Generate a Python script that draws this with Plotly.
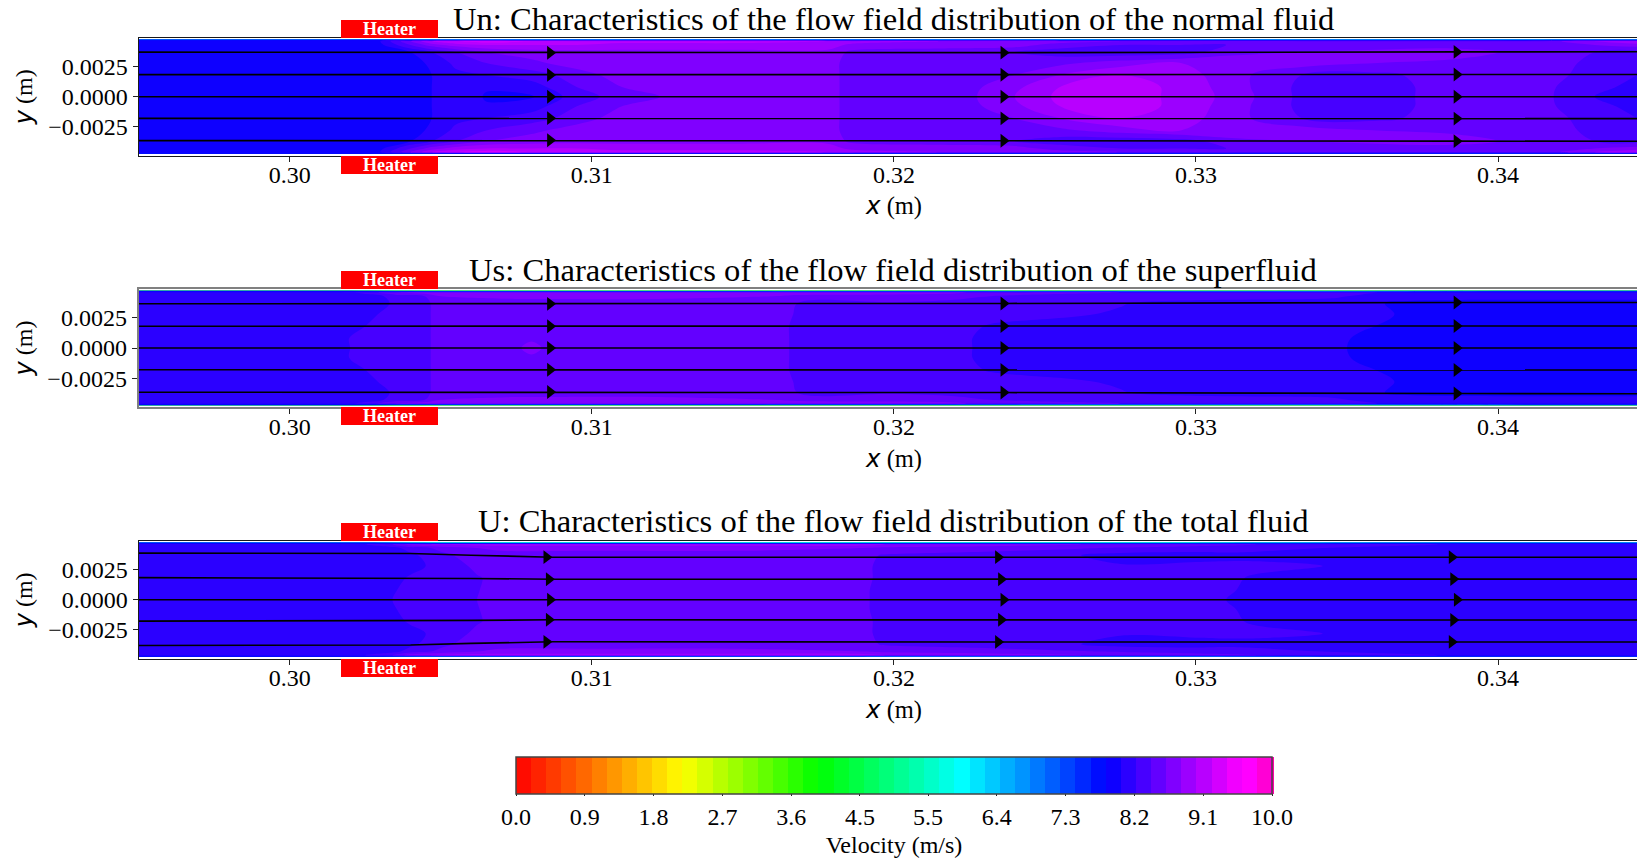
import plotly.graph_objects as go

# ---------- shared axes data ----------
y_rows = [-0.00475, -0.0046, -0.0043, -0.0037, -0.0028, -0.0018, -0.0008, 0.0,
          0.0008, 0.0018, 0.0028, 0.0037, 0.0043, 0.0046, 0.00475]
x_ticks = [0.30, 0.31, 0.32, 0.33, 0.34]
y_ticks = [-0.0025, 0.0, 0.0025]
cbar_tickvals = [0, 0.91, 1.82, 2.73, 3.64, 4.55, 5.45, 6.36, 7.27, 8.18, 9.09, 10]
cbar_ticktext = ["0.0", "0.9", "1.8", "2.7", "3.6", "4.5", "5.5", "6.4", "7.3", "8.2", "9.1", "10.0"]
titles = ["Un: Characteristics of the flow field distribution of the normal fluid",
          "Us: Characteristics of the flow field distribution of the superfluid",
          "U: Characteristics of the flow field distribution of the total fluid"]

colorscale = [[0.00, "rgb(255,0,0)"], [0.22, "rgb(255,255,0)"], [0.40, "rgb(0,255,0)"],
              [0.59, "rgb(0,255,255)"], [0.78, "rgb(0,0,255)"], [0.96, "rgb(255,0,255)"],
              [0.98, "rgb(255,0,255)"], [1.00, "rgb(255,0,170)"]]

# ---------- Un ----------
un_x = [.2950,.3030,.3040,.3047,.3055,.3065,.3080,.3095,.3110,.3125,.3150,.3178,.3186,.3215,.3240,.3255,.3275,.3295,.3310,.3335,.3360,.3385,.3415,.3432,.3446]
un_00 = [7.9,7.9,7.9,8.0,8.15,7.98,7.98,8.3,8.5,8.62,8.75,8.75,8.45,8.4,8.8,9.05,9.1,8.95,8.75,8.35,8.3,8.5,8.45,8.2,8.15]
un_08 = [7.9,7.9,7.9,8.0,8.15,8.02,8.1,8.4,8.6,8.7,8.75,8.75,8.45,8.4,8.75,9.0,9.1,8.95,8.72,8.35,8.3,8.5,8.45,8.25,8.15]
un_18 = [7.9,7.9,7.9,8.0,8.15,8.2,8.3,8.5,8.7,8.75,8.75,8.75,8.45,8.4,8.6,8.8,9.0,8.9,8.7,8.4,8.35,8.5,8.5,8.3,8.2]
un_28 = [7.9,7.9,7.9,8.05,8.25,8.4,8.55,8.7,8.72,8.75,8.75,8.75,8.45,8.4,8.45,8.55,8.7,8.8,8.8,8.7,8.6,8.55,8.5,8.35,8.25]
un_37 = [7.9,7.9,8.0,8.2,8.4,8.6,8.7,8.72,8.75,8.75,8.75,8.75,8.55,8.5,8.4,8.3,8.25,8.3,8.5,8.6,8.65,8.7,8.5,8.4,8.3]
un_43 = [7.9,7.95,8.4,8.7,8.9,9.0,9.0,9.0,8.9,8.9,8.9,8.9,8.75,8.7,8.7,8.5,8.4,8.4,8.4,8.5,8.5,8.5,8.5,8.6,8.7]
un_46 = [7.9,8.0,8.6,9.0,9.2,9.3,9.2,9.1,9.1,9.1,9.1,9.0,8.9,8.8,8.8,8.7,8.6,8.6,8.6,8.5,8.5,8.5,8.5,8.8,9.0]
un_48 = [7.7,7.7,7.4,7.3,7.3,7.3,7.3,7.3,7.3,7.3,7.3,7.3,7.3,7.3,7.3,7.3,7.3,7.3,7.3,7.3,7.3,7.3,7.3,7.3,7.3]
un_rows = [un_48, un_46, un_43, un_37, un_28, un_18, un_08, un_00, un_08, un_18, un_28, un_37, un_43, un_46, un_48]

# ---------- Us ----------
us_x = [.2950,.3015,.3025,.3035,.3046,.3050,.3075,.3080,.3085,.3120,.3160,.3168,.3200,.3220,.3232,.3275,.3300,.3345,.3355,.3370,.3410,.3446]
us_00 = [8.1,8.12,8.28,8.3,8.38,8.5,8.55,8.7,8.55,8.5,8.5,8.35,8.3,8.25,8.15,8.1,8.1,8.05,7.95,7.9,7.9,7.9]
us_08 = [8.1,8.13,8.28,8.3,8.38,8.5,8.5,8.55,8.5,8.5,8.5,8.35,8.3,8.25,8.15,8.1,8.1,8.05,7.97,7.9,7.9,7.9]
us_18 = [8.1,8.1,8.2,8.3,8.38,8.5,8.5,8.5,8.5,8.5,8.5,8.35,8.3,8.28,8.18,8.1,8.1,8.05,8.02,7.95,7.9,7.9]
us_28 = [8.1,8.1,8.15,8.27,8.38,8.5,8.5,8.5,8.5,8.5,8.5,8.38,8.35,8.3,8.28,8.18,8.12,8.08,8.05,7.98,7.9,7.9]
us_37 = [8.1,8.1,8.12,8.22,8.38,8.52,8.52,8.52,8.52,8.52,8.5,8.4,8.38,8.35,8.32,8.21,8.12,8.08,8.05,7.95,7.9,7.9]
us_43 = [8.1,8.1,8.12,8.25,8.42,8.6,8.65,8.65,8.65,8.65,8.6,8.55,8.5,8.45,8.4,8.3,8.3,8.25,8.15,8.1,8.1,8.1]
us_46 = [8.1,8.1,8.25,8.6,8.75,8.8,8.8,8.8,8.8,8.8,8.75,8.7,8.7,8.65,8.5,8.4,8.35,8.3,8.25,8.1,8.1,8.1]
us_48 = [7.7,7.7,7.5,6.8,6.5,6.4,6.4,6.4,6.4,6.4,6.4,6.4,6.4,6.4,6.4,6.4,6.4,6.4,6.5,6.8,7.2,7.2]
us_rows = [us_48, us_46, us_43, us_37, us_28, us_18, us_08, us_00, us_08, us_18, us_28, us_37, us_43, us_46, us_48]

# ---------- U ----------
u_x = [.2950,.3025,.3034,.3040,.3050,.3062,.3070,.3100,.3150,.3190,.3197,.3230,.3262,.3275,.3300,.3310,.3320,.3342,.3380,.3420,.3446]
u_00 = [8.1,8.12,8.2,8.28,8.3,8.4,8.5,8.52,8.52,8.42,8.35,8.3,8.28,8.27,8.25,8.2,8.15,8.1,8.1,8.1,8.1]
u_08 = [8.1,8.11,8.18,8.26,8.3,8.39,8.48,8.52,8.52,8.42,8.35,8.3,8.27,8.26,8.25,8.22,8.16,8.1,8.1,8.1,8.1]
u_18 = [8.1,8.1,8.15,8.22,8.3,8.38,8.47,8.52,8.52,8.43,8.36,8.3,8.25,8.25,8.25,8.23,8.18,8.1,8.1,8.1,8.1]
u_28 = [8.1,8.1,8.1,8.15,8.25,8.45,8.5,8.52,8.52,8.43,8.36,8.3,8.22,8.22,8.25,8.25,8.24,8.2,8.1,8.1,8.1]
u_37 = [8.1,8.1,8.1,8.15,8.35,8.5,8.52,8.52,8.52,8.45,8.38,8.3,8.2,8.12,8.12,8.14,8.15,8.15,8.1,8.1,8.1]
u_43 = [8.1,8.1,8.12,8.3,8.45,8.6,8.65,8.65,8.65,8.6,8.55,8.5,8.42,8.38,8.3,8.3,8.25,8.2,8.2,8.2,8.15]
u_46 = [8.1,8.2,8.4,8.7,8.85,8.9,8.9,8.9,8.9,8.9,8.8,8.7,8.6,8.55,8.5,8.45,8.4,8.3,8.2,8.2,8.2]
u_48 = [7.6,7.5,7.2,6.8,6.5,6.4,6.4,6.4,6.4,6.4,6.4,6.4,6.4,6.4,6.5,6.6,6.8,7.0,7.2,7.2,7.2]
u_rows = [u_48, u_46, u_43, u_37, u_28, u_18, u_08, u_00, u_08, u_18, u_28, u_37, u_43, u_46, u_48]

# ---------- streamlines: y values at the x samples ----------
line_x = [0.2950, 0.3040, 0.3060, 0.3087, 0.3237, 0.3387, 0.3446]
un_lines = [[0.00370, 0.00370, 0.00368, 0.00365, 0.00366, 0.00372, 0.00373],
            [0.00183, 0.00183, 0.00182, 0.00181, 0.00182, 0.00184, 0.00184],
            [0.0, 0.0, 0.0, 0.0, 0.0, 0.0, 0.0],
            [-0.00180, -0.00180, -0.00180, -0.00178, -0.00180, -0.00182, -0.00182],
            [-0.00365, -0.00365, -0.00365, -0.00362, -0.00366, -0.00369, -0.00370]]
us_lines = [[0.00367, 0.00367, 0.00367, 0.00367, 0.00370, 0.00378, 0.00378],
            [0.00181, 0.00181, 0.00181, 0.00181, 0.00182, 0.00183, 0.00183],
            [0.0, 0.0, 0.0, 0.0, 0.0, 0.0, 0.0],
            [-0.00181, -0.00181, -0.00181, -0.00181, -0.00182, -0.00183, -0.00183],
            [-0.00367, -0.00367, -0.00367, -0.00365, -0.00370, -0.00378, -0.00380]]
u_lines = [[0.00388, 0.00384, 0.00370, 0.00354, 0.00354, 0.00354, 0.00354],
           [0.00184, 0.00182, 0.00177, 0.00171, 0.00171, 0.00172, 0.00172],
           [0.0, 0.0, 0.0, 0.0, 0.0, 0.0, 0.0],
           [-0.00177, -0.00175, -0.00171, -0.00166, -0.00166, -0.00168, -0.00168],
           [-0.00379, -0.00375, -0.00362, -0.00349, -0.00350, -0.00350, -0.00350]]

un_arrow_x = [[0.30862, 0.32363, 0.33863]] * 5
us_arrow_x = [[0.30862, 0.32363, 0.33863]] * 5
u_arrow_x = [[0.30850, 0.32345, 0.33847], [0.30858, 0.32355, 0.33852], [0.30862, 0.32363, 0.33864],
             [0.30858, 0.32355, 0.33852], [0.30850, 0.32345, 0.33847]]

panels = [
    dict(x=un_x, rows=un_rows, lines=un_lines, arrows=un_arrow_x, top=37.7, bottom=155.7, spine="#1a1a1a", sw=1.4, ty=19, xt=206),
    dict(x=us_x, rows=us_rows, lines=us_lines, arrows=us_arrow_x, top=289.0, bottom=407.0, spine="#808080", sw=2, ty=270, xt=458),
    dict(x=u_x, rows=u_rows, lines=u_lines, arrows=u_arrow_x, top=540.8, bottom=658.8, spine="#1a1a1a", sw=1.4, ty=521, xt=709),
]

W, H = 1637, 858
SERIF = "Liberation Serif"
fig = go.Figure()
layout = dict(width=W, height=H, margin=dict(l=0, r=0, t=0, b=0, autoexpand=False), plot_bgcolor="white",
              paper_bgcolor="white", showlegend=False, font=dict(family=SERIF, color="black"))
annotations = []
for i, p in enumerate(panels):
    s = "" if i == 0 else str(i + 1)
    xa, ya = "x" + s, "y" + s
    fig.add_trace(go.Contour(
        x=p["x"], y=y_rows, z=p["rows"], xaxis=xa, yaxis=ya,
        zmin=0, zmax=10, autocontour=False, colorscale=colorscale,
        contours=dict(start=0, end=10, size=0.2, coloring="fill", showlines=False),
        line=dict(width=0), hoverinfo="skip", showscale=(i == 0),
        colorbar=dict(orientation="h", x=894 / W, xanchor="center", y=1 - 757 / H, yanchor="top",
                      len=756, lenmode="pixels", thickness=37, thicknessmode="pixels",
                      xpad=0, ypad=0, outlinecolor="#444444", outlinewidth=1.5,
                      tickmode="array", tickvals=cbar_tickvals, ticktext=cbar_ticktext,
                      ticks="outside", ticklen=2, tickcolor="#222222",
                      tickfont=dict(family=SERIF, size=24, color="black"),
                      title=dict(text="Velocity (m/s)", side="bottom",
                                 font=dict(family=SERIF, size=24, color="black"))),
    ))
    for ly, ax_ in zip(p["lines"], p["arrows"]):
        fig.add_trace(go.Scatter(x=line_x, y=ly, mode="lines", xaxis=xa, yaxis=ya,
                                 line=dict(color="black", width=1.6), hoverinfo="skip"))
        ay = [ly[3], ly[4], ly[5]]
        fig.add_trace(go.Scatter(x=ax_, y=ay, mode="markers", xaxis=xa, yaxis=ya,
                                 marker=dict(symbol="triangle-right", size=12, color="black"),
                                 hoverinfo="skip"))
    layout["xaxis" + s] = dict(
        domain=[138.7 / W, 1], range=[0.295, 0.3446], anchor=ya, tickmode="array", tickvals=x_ticks,
        tickformat=".2f", ticks="outside", ticklen=5, tickcolor="#222222", showgrid=False, zeroline=False,
        showline=True, linecolor=p["spine"], linewidth=p["sw"], mirror=True, ticklabelstandoff=-8,
        tickfont=dict(family=SERIF, size=24, color="black"))
    layout["yaxis" + s] = dict(
        domain=[1 - p["bottom"] / H, 1 - p["top"] / H], range=[-0.0049, 0.0049], anchor=xa, tickmode="array",
        tickvals=y_ticks, tickformat=".4f", ticks="outside", ticklen=5, tickcolor="#222222",
        showgrid=False, zeroline=False, showline=True, linecolor=p["spine"], linewidth=p["sw"],
        tickfont=dict(family=SERIF, size=24, color="black"),
        title=dict(text="<i><span style=\"font-family:'DejaVu Sans'\">y</span></i> (m)", standoff=8,
                   font=dict(family=SERIF, size=24, color="black")))
    annotations.append(dict(text=titles[i], xref="paper", yref="paper", x=893 / W, y=1 - p["ty"] / H,
                            xanchor="center", yanchor="middle", showarrow=False,
                            font=dict(family=SERIF, size=32.6, color="black")))
    annotations.append(dict(text="<i><span style=\"font-family:'DejaVu Sans'\">x</span></i> (m)",
                            xref="paper", yref="paper", x=894 / W, y=1 - p["xt"] / H,
                            xanchor="center", yanchor="middle", showarrow=False,
                            font=dict(family=SERIF, size=24.5, color="black")))
    for yy, yanchor in [(0.0049, "bottom"), (-0.0049, "top")]:
        annotations.append(dict(text="<b>Heater</b>", xref=xa, yref=ya, x=0.30331, y=yy,
                                xanchor="center", yanchor=yanchor, showarrow=False, bgcolor="#ff0000",
                                width=97, height=18, borderpad=0, borderwidth=0,
                                font=dict(family=SERIF, size=18, color="white")))
layout["annotations"] = annotations
fig.update_layout(**layout)
fig.write_html("out.html", post_script="document.body.style.margin='0';",
               config={"displayModeBar": False})
